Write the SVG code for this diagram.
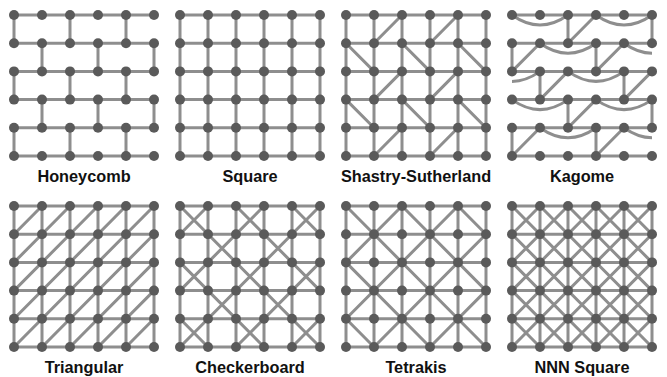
<svg xmlns="http://www.w3.org/2000/svg" xmlns:xlink="http://www.w3.org/1999/xlink" width="667" height="377" viewBox="0 0 667 377">
<style>
.e{fill:none;stroke:#8e8e8e;stroke-width:3}
.n{fill:#5a5a5a}
text{font-family:"Liberation Sans",Arial,Helvetica,sans-serif;font-weight:bold;font-size:16.3px;fill:#111;text-anchor:middle}
</style>
<defs>
<path id="hz" d="M0 0H140M0 28.2H140M0 56.4H140M0 84.6H140M0 112.8H140M0 141H140"/>
<path id="vt" d="M0 0V141M28 0V141M56 0V141M84 0V141M112 0V141M140 0V141"/>
<path id="bs" d="M0 0L140 141M56 0L140 84.6M112 0L140 28.2M0 56.4L84 141M0 112.8L28 141"/>
<path id="bo" d="M28 0L140 112.8M84 0L140 56.4M0 28.2L112 141M0 84.6L56 141"/>
<path id="fo" d="M0 28.2L28 0M0 84.6L84 0M0 141L140 0M56 141L140 56.4M112 141L140 112.8"/>
<path id="fe" d="M0 56.4L56 0M0 112.8L112 0M28 141L140 28.2M84 141L140 84.6"/>
</defs>

<!-- Honeycomb -->
<g id="honeycomb" transform="translate(14,15)">
<g class="e" id="honeycomb-edges">
<use xlink:href="#hz"/>
<path d="M0 0V28.2M56 0V28.2M112 0V28.2M28 28.2V56.4M84 28.2V56.4M140 28.2V56.4M0 56.4V84.6M56 56.4V84.6M112 56.4V84.6M28 84.6V112.8M84 84.6V112.8M140 84.6V112.8M0 112.8V141M56 112.8V141M112 112.8V141"/>
</g>
<g class="n" id="honeycomb-nodes">
<circle id="hc-0-0" cx="0" cy="0" r="5"/><circle id="hc-0-1" cx="28" cy="0" r="5"/><circle id="hc-0-2" cx="56" cy="0" r="5"/><circle id="hc-0-3" cx="84" cy="0" r="5"/><circle id="hc-0-4" cx="112" cy="0" r="5"/><circle id="hc-0-5" cx="140" cy="0" r="5"/>
<circle id="hc-1-0" cx="0" cy="28.2" r="5"/><circle id="hc-1-1" cx="28" cy="28.2" r="5"/><circle id="hc-1-2" cx="56" cy="28.2" r="5"/><circle id="hc-1-3" cx="84" cy="28.2" r="5"/><circle id="hc-1-4" cx="112" cy="28.2" r="5"/><circle id="hc-1-5" cx="140" cy="28.2" r="5"/>
<circle id="hc-2-0" cx="0" cy="56.4" r="5"/><circle id="hc-2-1" cx="28" cy="56.4" r="5"/><circle id="hc-2-2" cx="56" cy="56.4" r="5"/><circle id="hc-2-3" cx="84" cy="56.4" r="5"/><circle id="hc-2-4" cx="112" cy="56.4" r="5"/><circle id="hc-2-5" cx="140" cy="56.4" r="5"/>
<circle id="hc-3-0" cx="0" cy="84.6" r="5"/><circle id="hc-3-1" cx="28" cy="84.6" r="5"/><circle id="hc-3-2" cx="56" cy="84.6" r="5"/><circle id="hc-3-3" cx="84" cy="84.6" r="5"/><circle id="hc-3-4" cx="112" cy="84.6" r="5"/><circle id="hc-3-5" cx="140" cy="84.6" r="5"/>
<circle id="hc-4-0" cx="0" cy="112.8" r="5"/><circle id="hc-4-1" cx="28" cy="112.8" r="5"/><circle id="hc-4-2" cx="56" cy="112.8" r="5"/><circle id="hc-4-3" cx="84" cy="112.8" r="5"/><circle id="hc-4-4" cx="112" cy="112.8" r="5"/><circle id="hc-4-5" cx="140" cy="112.8" r="5"/>
<circle id="hc-5-0" cx="0" cy="141" r="5"/><circle id="hc-5-1" cx="28" cy="141" r="5"/><circle id="hc-5-2" cx="56" cy="141" r="5"/><circle id="hc-5-3" cx="84" cy="141" r="5"/><circle id="hc-5-4" cx="112" cy="141" r="5"/><circle id="hc-5-5" cx="140" cy="141" r="5"/>
</g>
<text x="70" y="166.5">Honeycomb</text>
</g>

<!-- Square -->
<g id="square" transform="translate(180,15)">
<g class="e" id="square-edges"><use xlink:href="#hz"/><use xlink:href="#vt"/></g>
<g class="n" id="square-nodes">
<circle id="sq-0-0" cx="0" cy="0" r="5"/><circle id="sq-0-1" cx="28" cy="0" r="5"/><circle id="sq-0-2" cx="56" cy="0" r="5"/><circle id="sq-0-3" cx="84" cy="0" r="5"/><circle id="sq-0-4" cx="112" cy="0" r="5"/><circle id="sq-0-5" cx="140" cy="0" r="5"/>
<circle id="sq-1-0" cx="0" cy="28.2" r="5"/><circle id="sq-1-1" cx="28" cy="28.2" r="5"/><circle id="sq-1-2" cx="56" cy="28.2" r="5"/><circle id="sq-1-3" cx="84" cy="28.2" r="5"/><circle id="sq-1-4" cx="112" cy="28.2" r="5"/><circle id="sq-1-5" cx="140" cy="28.2" r="5"/>
<circle id="sq-2-0" cx="0" cy="56.4" r="5"/><circle id="sq-2-1" cx="28" cy="56.4" r="5"/><circle id="sq-2-2" cx="56" cy="56.4" r="5"/><circle id="sq-2-3" cx="84" cy="56.4" r="5"/><circle id="sq-2-4" cx="112" cy="56.4" r="5"/><circle id="sq-2-5" cx="140" cy="56.4" r="5"/>
<circle id="sq-3-0" cx="0" cy="84.6" r="5"/><circle id="sq-3-1" cx="28" cy="84.6" r="5"/><circle id="sq-3-2" cx="56" cy="84.6" r="5"/><circle id="sq-3-3" cx="84" cy="84.6" r="5"/><circle id="sq-3-4" cx="112" cy="84.6" r="5"/><circle id="sq-3-5" cx="140" cy="84.6" r="5"/>
<circle id="sq-4-0" cx="0" cy="112.8" r="5"/><circle id="sq-4-1" cx="28" cy="112.8" r="5"/><circle id="sq-4-2" cx="56" cy="112.8" r="5"/><circle id="sq-4-3" cx="84" cy="112.8" r="5"/><circle id="sq-4-4" cx="112" cy="112.8" r="5"/><circle id="sq-4-5" cx="140" cy="112.8" r="5"/>
<circle id="sq-5-0" cx="0" cy="141" r="5"/><circle id="sq-5-1" cx="28" cy="141" r="5"/><circle id="sq-5-2" cx="56" cy="141" r="5"/><circle id="sq-5-3" cx="84" cy="141" r="5"/><circle id="sq-5-4" cx="112" cy="141" r="5"/><circle id="sq-5-5" cx="140" cy="141" r="5"/>
</g>
<text x="70" y="166.5">Square</text>
</g>

<!-- Shastry-Sutherland -->
<g id="shastry-sutherland" transform="translate(346,15)">
<g class="e" id="shastry-sutherland-edges"><use xlink:href="#hz"/><use xlink:href="#vt"/>
<path d="M56 0L28 28.2M112 0L84 28.2M0 28.2L28 56.4M56 28.2L84 56.4M112 28.2L140 56.4M56 56.4L28 84.6M112 56.4L84 84.6M0 84.6L28 112.8M56 84.6L84 112.8M112 84.6L140 112.8M56 112.8L28 141M112 112.8L84 141"/>
</g>
<g class="n" id="shastry-sutherland-nodes">
<circle id="ss-0-0" cx="0" cy="0" r="5"/><circle id="ss-0-1" cx="28" cy="0" r="5"/><circle id="ss-0-2" cx="56" cy="0" r="5"/><circle id="ss-0-3" cx="84" cy="0" r="5"/><circle id="ss-0-4" cx="112" cy="0" r="5"/><circle id="ss-0-5" cx="140" cy="0" r="5"/>
<circle id="ss-1-0" cx="0" cy="28.2" r="5"/><circle id="ss-1-1" cx="28" cy="28.2" r="5"/><circle id="ss-1-2" cx="56" cy="28.2" r="5"/><circle id="ss-1-3" cx="84" cy="28.2" r="5"/><circle id="ss-1-4" cx="112" cy="28.2" r="5"/><circle id="ss-1-5" cx="140" cy="28.2" r="5"/>
<circle id="ss-2-0" cx="0" cy="56.4" r="5"/><circle id="ss-2-1" cx="28" cy="56.4" r="5"/><circle id="ss-2-2" cx="56" cy="56.4" r="5"/><circle id="ss-2-3" cx="84" cy="56.4" r="5"/><circle id="ss-2-4" cx="112" cy="56.4" r="5"/><circle id="ss-2-5" cx="140" cy="56.4" r="5"/>
<circle id="ss-3-0" cx="0" cy="84.6" r="5"/><circle id="ss-3-1" cx="28" cy="84.6" r="5"/><circle id="ss-3-2" cx="56" cy="84.6" r="5"/><circle id="ss-3-3" cx="84" cy="84.6" r="5"/><circle id="ss-3-4" cx="112" cy="84.6" r="5"/><circle id="ss-3-5" cx="140" cy="84.6" r="5"/>
<circle id="ss-4-0" cx="0" cy="112.8" r="5"/><circle id="ss-4-1" cx="28" cy="112.8" r="5"/><circle id="ss-4-2" cx="56" cy="112.8" r="5"/><circle id="ss-4-3" cx="84" cy="112.8" r="5"/><circle id="ss-4-4" cx="112" cy="112.8" r="5"/><circle id="ss-4-5" cx="140" cy="112.8" r="5"/>
<circle id="ss-5-0" cx="0" cy="141" r="5"/><circle id="ss-5-1" cx="28" cy="141" r="5"/><circle id="ss-5-2" cx="56" cy="141" r="5"/><circle id="ss-5-3" cx="84" cy="141" r="5"/><circle id="ss-5-4" cx="112" cy="141" r="5"/><circle id="ss-5-5" cx="140" cy="141" r="5"/>
</g>
<text x="70" y="166.5">Shastry-Sutherland</text>
</g>

<!-- Kagome -->
<g id="kagome" transform="translate(512,15)">
<g class="e" id="kagome-edges"><use xlink:href="#hz"/>
<path d="M56 0V28.2M140 0V28.2M0 28.2V56.4M84 28.2V56.4M28 56.4V84.6M112 56.4V84.6M56 84.6V112.8M140 84.6V112.8M0 112.8V141M84 112.8V141"/>
<path d="M56 28.2L84 0M0 56.4L28 28.2M84 56.4L112 28.2M28 84.6L56 56.4M112 84.6L140 56.4M56 112.8L84 84.6M0 141L28 112.8M84 141L112 112.8"/>
<path d="M0 0Q28 20 56 0M84 0Q112 20 140 0M28 28.2Q56 48.2 84 28.2M112 28.2Q126 38.2 140 38.2M0 66.4Q14 66.4 28 56.4M56 56.4Q84 76.4 112 56.4M0 84.6Q28 104.6 56 84.6M84 84.6Q112 104.6 140 84.6M28 112.8Q56 132.8 84 112.8M112 112.8Q126 122.8 140 122.8"/>
</g>
<g class="n" id="kagome-nodes">
<circle id="kg-0-0" cx="0" cy="0" r="5"/><circle id="kg-0-1" cx="28" cy="0" r="5"/><circle id="kg-0-2" cx="56" cy="0" r="5"/><circle id="kg-0-3" cx="84" cy="0" r="5"/><circle id="kg-0-4" cx="112" cy="0" r="5"/><circle id="kg-0-5" cx="140" cy="0" r="5"/>
<circle id="kg-1-0" cx="0" cy="28.2" r="5"/><circle id="kg-1-1" cx="28" cy="28.2" r="5"/><circle id="kg-1-2" cx="56" cy="28.2" r="5"/><circle id="kg-1-3" cx="84" cy="28.2" r="5"/><circle id="kg-1-4" cx="112" cy="28.2" r="5"/><circle id="kg-1-5" cx="140" cy="28.2" r="5"/>
<circle id="kg-2-0" cx="0" cy="56.4" r="5"/><circle id="kg-2-1" cx="28" cy="56.4" r="5"/><circle id="kg-2-2" cx="56" cy="56.4" r="5"/><circle id="kg-2-3" cx="84" cy="56.4" r="5"/><circle id="kg-2-4" cx="112" cy="56.4" r="5"/><circle id="kg-2-5" cx="140" cy="56.4" r="5"/>
<circle id="kg-3-0" cx="0" cy="84.6" r="5"/><circle id="kg-3-1" cx="28" cy="84.6" r="5"/><circle id="kg-3-2" cx="56" cy="84.6" r="5"/><circle id="kg-3-3" cx="84" cy="84.6" r="5"/><circle id="kg-3-4" cx="112" cy="84.6" r="5"/><circle id="kg-3-5" cx="140" cy="84.6" r="5"/>
<circle id="kg-4-0" cx="0" cy="112.8" r="5"/><circle id="kg-4-1" cx="28" cy="112.8" r="5"/><circle id="kg-4-2" cx="56" cy="112.8" r="5"/><circle id="kg-4-3" cx="84" cy="112.8" r="5"/><circle id="kg-4-4" cx="112" cy="112.8" r="5"/><circle id="kg-4-5" cx="140" cy="112.8" r="5"/>
<circle id="kg-5-0" cx="0" cy="141" r="5"/><circle id="kg-5-1" cx="28" cy="141" r="5"/><circle id="kg-5-2" cx="56" cy="141" r="5"/><circle id="kg-5-3" cx="84" cy="141" r="5"/><circle id="kg-5-4" cx="112" cy="141" r="5"/><circle id="kg-5-5" cx="140" cy="141" r="5"/>
</g>
<text x="70" y="166.5">Kagome</text>
</g>

<!-- Triangular -->
<g id="triangular" transform="translate(14,206)">
<g class="e" id="triangular-edges"><use xlink:href="#hz"/><use xlink:href="#vt"/><use xlink:href="#fo"/><use xlink:href="#fe"/></g>
<g class="n" id="triangular-nodes">
<circle id="tr-0-0" cx="0" cy="0" r="5"/><circle id="tr-0-1" cx="28" cy="0" r="5"/><circle id="tr-0-2" cx="56" cy="0" r="5"/><circle id="tr-0-3" cx="84" cy="0" r="5"/><circle id="tr-0-4" cx="112" cy="0" r="5"/><circle id="tr-0-5" cx="140" cy="0" r="5"/>
<circle id="tr-1-0" cx="0" cy="28.2" r="5"/><circle id="tr-1-1" cx="28" cy="28.2" r="5"/><circle id="tr-1-2" cx="56" cy="28.2" r="5"/><circle id="tr-1-3" cx="84" cy="28.2" r="5"/><circle id="tr-1-4" cx="112" cy="28.2" r="5"/><circle id="tr-1-5" cx="140" cy="28.2" r="5"/>
<circle id="tr-2-0" cx="0" cy="56.4" r="5"/><circle id="tr-2-1" cx="28" cy="56.4" r="5"/><circle id="tr-2-2" cx="56" cy="56.4" r="5"/><circle id="tr-2-3" cx="84" cy="56.4" r="5"/><circle id="tr-2-4" cx="112" cy="56.4" r="5"/><circle id="tr-2-5" cx="140" cy="56.4" r="5"/>
<circle id="tr-3-0" cx="0" cy="84.6" r="5"/><circle id="tr-3-1" cx="28" cy="84.6" r="5"/><circle id="tr-3-2" cx="56" cy="84.6" r="5"/><circle id="tr-3-3" cx="84" cy="84.6" r="5"/><circle id="tr-3-4" cx="112" cy="84.6" r="5"/><circle id="tr-3-5" cx="140" cy="84.6" r="5"/>
<circle id="tr-4-0" cx="0" cy="112.8" r="5"/><circle id="tr-4-1" cx="28" cy="112.8" r="5"/><circle id="tr-4-2" cx="56" cy="112.8" r="5"/><circle id="tr-4-3" cx="84" cy="112.8" r="5"/><circle id="tr-4-4" cx="112" cy="112.8" r="5"/><circle id="tr-4-5" cx="140" cy="112.8" r="5"/>
<circle id="tr-5-0" cx="0" cy="141" r="5"/><circle id="tr-5-1" cx="28" cy="141" r="5"/><circle id="tr-5-2" cx="56" cy="141" r="5"/><circle id="tr-5-3" cx="84" cy="141" r="5"/><circle id="tr-5-4" cx="112" cy="141" r="5"/><circle id="tr-5-5" cx="140" cy="141" r="5"/>
</g>
<text x="70" y="167">Triangular</text>
</g>

<!-- Checkerboard -->
<g id="checkerboard" transform="translate(180,206)">
<g class="e" id="checkerboard-edges"><use xlink:href="#hz"/><use xlink:href="#vt"/><use xlink:href="#bs"/><use xlink:href="#fo"/></g>
<g class="n" id="checkerboard-nodes">
<circle id="cb-0-0" cx="0" cy="0" r="5"/><circle id="cb-0-1" cx="28" cy="0" r="5"/><circle id="cb-0-2" cx="56" cy="0" r="5"/><circle id="cb-0-3" cx="84" cy="0" r="5"/><circle id="cb-0-4" cx="112" cy="0" r="5"/><circle id="cb-0-5" cx="140" cy="0" r="5"/>
<circle id="cb-1-0" cx="0" cy="28.2" r="5"/><circle id="cb-1-1" cx="28" cy="28.2" r="5"/><circle id="cb-1-2" cx="56" cy="28.2" r="5"/><circle id="cb-1-3" cx="84" cy="28.2" r="5"/><circle id="cb-1-4" cx="112" cy="28.2" r="5"/><circle id="cb-1-5" cx="140" cy="28.2" r="5"/>
<circle id="cb-2-0" cx="0" cy="56.4" r="5"/><circle id="cb-2-1" cx="28" cy="56.4" r="5"/><circle id="cb-2-2" cx="56" cy="56.4" r="5"/><circle id="cb-2-3" cx="84" cy="56.4" r="5"/><circle id="cb-2-4" cx="112" cy="56.4" r="5"/><circle id="cb-2-5" cx="140" cy="56.4" r="5"/>
<circle id="cb-3-0" cx="0" cy="84.6" r="5"/><circle id="cb-3-1" cx="28" cy="84.6" r="5"/><circle id="cb-3-2" cx="56" cy="84.6" r="5"/><circle id="cb-3-3" cx="84" cy="84.6" r="5"/><circle id="cb-3-4" cx="112" cy="84.6" r="5"/><circle id="cb-3-5" cx="140" cy="84.6" r="5"/>
<circle id="cb-4-0" cx="0" cy="112.8" r="5"/><circle id="cb-4-1" cx="28" cy="112.8" r="5"/><circle id="cb-4-2" cx="56" cy="112.8" r="5"/><circle id="cb-4-3" cx="84" cy="112.8" r="5"/><circle id="cb-4-4" cx="112" cy="112.8" r="5"/><circle id="cb-4-5" cx="140" cy="112.8" r="5"/>
<circle id="cb-5-0" cx="0" cy="141" r="5"/><circle id="cb-5-1" cx="28" cy="141" r="5"/><circle id="cb-5-2" cx="56" cy="141" r="5"/><circle id="cb-5-3" cx="84" cy="141" r="5"/><circle id="cb-5-4" cx="112" cy="141" r="5"/><circle id="cb-5-5" cx="140" cy="141" r="5"/>
</g>
<text x="70" y="167">Checkerboard</text>
</g>

<!-- Tetrakis -->
<g id="tetrakis" transform="translate(346,206)">
<g class="e" id="tetrakis-edges"><use xlink:href="#hz"/><use xlink:href="#vt"/><use xlink:href="#bs"/><use xlink:href="#fe"/></g>
<g class="n" id="tetrakis-nodes">
<circle id="tk-0-0" cx="0" cy="0" r="5"/><circle id="tk-0-1" cx="28" cy="0" r="5"/><circle id="tk-0-2" cx="56" cy="0" r="5"/><circle id="tk-0-3" cx="84" cy="0" r="5"/><circle id="tk-0-4" cx="112" cy="0" r="5"/><circle id="tk-0-5" cx="140" cy="0" r="5"/>
<circle id="tk-1-0" cx="0" cy="28.2" r="5"/><circle id="tk-1-1" cx="28" cy="28.2" r="5"/><circle id="tk-1-2" cx="56" cy="28.2" r="5"/><circle id="tk-1-3" cx="84" cy="28.2" r="5"/><circle id="tk-1-4" cx="112" cy="28.2" r="5"/><circle id="tk-1-5" cx="140" cy="28.2" r="5"/>
<circle id="tk-2-0" cx="0" cy="56.4" r="5"/><circle id="tk-2-1" cx="28" cy="56.4" r="5"/><circle id="tk-2-2" cx="56" cy="56.4" r="5"/><circle id="tk-2-3" cx="84" cy="56.4" r="5"/><circle id="tk-2-4" cx="112" cy="56.4" r="5"/><circle id="tk-2-5" cx="140" cy="56.4" r="5"/>
<circle id="tk-3-0" cx="0" cy="84.6" r="5"/><circle id="tk-3-1" cx="28" cy="84.6" r="5"/><circle id="tk-3-2" cx="56" cy="84.6" r="5"/><circle id="tk-3-3" cx="84" cy="84.6" r="5"/><circle id="tk-3-4" cx="112" cy="84.6" r="5"/><circle id="tk-3-5" cx="140" cy="84.6" r="5"/>
<circle id="tk-4-0" cx="0" cy="112.8" r="5"/><circle id="tk-4-1" cx="28" cy="112.8" r="5"/><circle id="tk-4-2" cx="56" cy="112.8" r="5"/><circle id="tk-4-3" cx="84" cy="112.8" r="5"/><circle id="tk-4-4" cx="112" cy="112.8" r="5"/><circle id="tk-4-5" cx="140" cy="112.8" r="5"/>
<circle id="tk-5-0" cx="0" cy="141" r="5"/><circle id="tk-5-1" cx="28" cy="141" r="5"/><circle id="tk-5-2" cx="56" cy="141" r="5"/><circle id="tk-5-3" cx="84" cy="141" r="5"/><circle id="tk-5-4" cx="112" cy="141" r="5"/><circle id="tk-5-5" cx="140" cy="141" r="5"/>
</g>
<text x="70" y="167">Tetrakis</text>
</g>

<!-- NNN Square -->
<g id="nnn-square" transform="translate(512,206)">
<g class="e" id="nnn-square-edges"><use xlink:href="#hz"/><use xlink:href="#vt"/><use xlink:href="#bs"/><use xlink:href="#bo"/><use xlink:href="#fo"/><use xlink:href="#fe"/></g>
<g class="n" id="nnn-square-nodes">
<circle id="nn-0-0" cx="0" cy="0" r="5"/><circle id="nn-0-1" cx="28" cy="0" r="5"/><circle id="nn-0-2" cx="56" cy="0" r="5"/><circle id="nn-0-3" cx="84" cy="0" r="5"/><circle id="nn-0-4" cx="112" cy="0" r="5"/><circle id="nn-0-5" cx="140" cy="0" r="5"/>
<circle id="nn-1-0" cx="0" cy="28.2" r="5"/><circle id="nn-1-1" cx="28" cy="28.2" r="5"/><circle id="nn-1-2" cx="56" cy="28.2" r="5"/><circle id="nn-1-3" cx="84" cy="28.2" r="5"/><circle id="nn-1-4" cx="112" cy="28.2" r="5"/><circle id="nn-1-5" cx="140" cy="28.2" r="5"/>
<circle id="nn-2-0" cx="0" cy="56.4" r="5"/><circle id="nn-2-1" cx="28" cy="56.4" r="5"/><circle id="nn-2-2" cx="56" cy="56.4" r="5"/><circle id="nn-2-3" cx="84" cy="56.4" r="5"/><circle id="nn-2-4" cx="112" cy="56.4" r="5"/><circle id="nn-2-5" cx="140" cy="56.4" r="5"/>
<circle id="nn-3-0" cx="0" cy="84.6" r="5"/><circle id="nn-3-1" cx="28" cy="84.6" r="5"/><circle id="nn-3-2" cx="56" cy="84.6" r="5"/><circle id="nn-3-3" cx="84" cy="84.6" r="5"/><circle id="nn-3-4" cx="112" cy="84.6" r="5"/><circle id="nn-3-5" cx="140" cy="84.6" r="5"/>
<circle id="nn-4-0" cx="0" cy="112.8" r="5"/><circle id="nn-4-1" cx="28" cy="112.8" r="5"/><circle id="nn-4-2" cx="56" cy="112.8" r="5"/><circle id="nn-4-3" cx="84" cy="112.8" r="5"/><circle id="nn-4-4" cx="112" cy="112.8" r="5"/><circle id="nn-4-5" cx="140" cy="112.8" r="5"/>
<circle id="nn-5-0" cx="0" cy="141" r="5"/><circle id="nn-5-1" cx="28" cy="141" r="5"/><circle id="nn-5-2" cx="56" cy="141" r="5"/><circle id="nn-5-3" cx="84" cy="141" r="5"/><circle id="nn-5-4" cx="112" cy="141" r="5"/><circle id="nn-5-5" cx="140" cy="141" r="5"/>
</g>
<text x="70" y="167">NNN Square</text>
</g>
</svg>
